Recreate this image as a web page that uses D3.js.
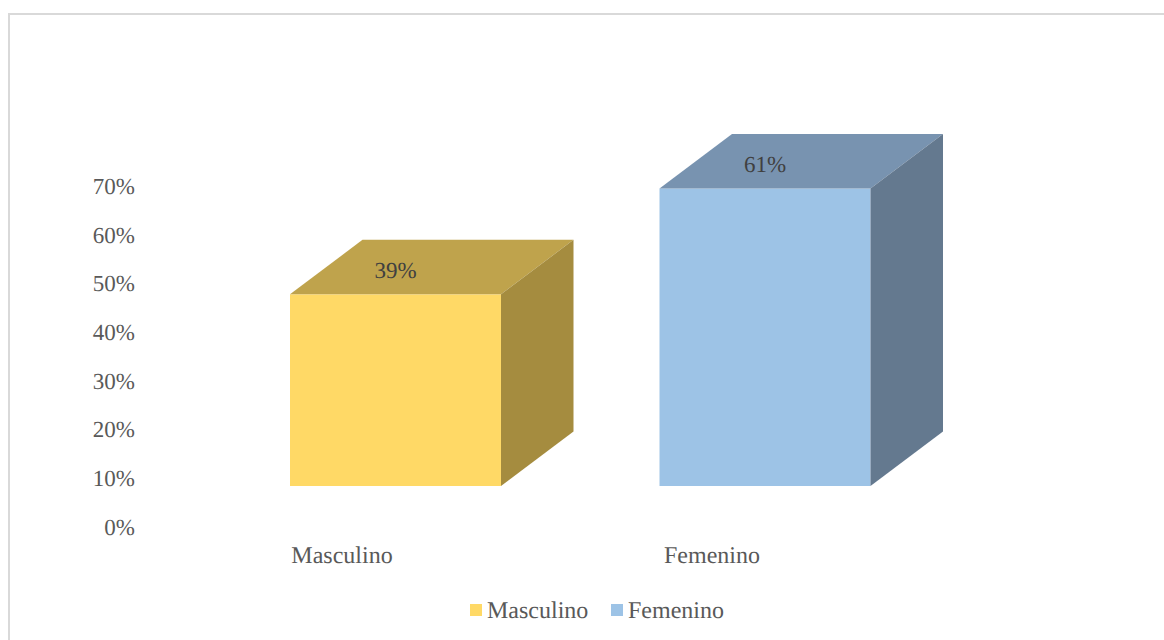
<!DOCTYPE html>
<html>
<head>
<meta charset="utf-8">
<script src="https://cdn.jsdelivr.net/npm/d3@7"></script>
<style>
  html, body { margin: 0; padding: 0; background: #fff; }
  text { font-family: "Liberation Serif", serif; text-rendering: geometricPrecision; }
</style>
</head>
<body>
<div id="chart"></div>
<script>
var categories = ["Masculino", "Femenino"];
var values = [0.393, 0.61];
var valueLabels = ["39%", "61%"];
var ticks = [0, 0.1, 0.2, 0.3, 0.4, 0.5, 0.6, 0.7];
var frontColors = ["#ffd966", "#9dc3e6"];
var topColors = ["#bfa34c", "#7893b0"];
var sideColors = ["#a58c3f", "#64798f"];

var width = 1164, height = 640;

var svg = d3.select("#chart").append("svg")
  .attr("width", width)
  .attr("height", height)
  .style("display", "block");

// chart frame
svg.append("rect")
  .attr("x", 9).attr("y", 14)
  .attr("width", 1160).attr("height", 640)
  .attr("fill", "#fff")
  .attr("stroke", "#d9d9d9")
  .attr("stroke-width", 2);

// value scale: the tick labels sit on the back wall, the bars are on the front plane
var yScale = d3.scaleLinear().domain([0, 0.7]).range([527, 186]);
var frontScale = d3.scaleLinear().domain([0, 0.61]).range([486, 188.5]);
var barX = d3.scalePoint().domain(categories).range([290, 659.5]);
var barWidth = 211;
var depthX = 72.5, depthY = 54.5;

// y axis labels
var yAxis = d3.axisLeft(yScale).tickValues(ticks).tickFormat(d3.format(".0%")).tickSize(0).tickPadding(0);
var yG = svg.append("g").attr("transform", "translate(135,0)").call(yAxis);
yG.select(".domain").remove();
yG.selectAll("text").attr("fill", "#595959").attr("dy", "0.32em")
  .style("font-family", '"Liberation Serif", serif').style("font-size", "23px");

var bars = svg.append("g").selectAll("g").data(categories).join("g");

// front face
bars.append("rect")
  .attr("x", function (d) { return barX(d); })
  .attr("y", function (d, i) { return frontScale(values[i]); })
  .attr("width", barWidth)
  .attr("height", function (d, i) { return frontScale(0) - frontScale(values[i]); })
  .attr("fill", function (d, i) { return frontColors[i]; });

// top face
bars.append("path")
  .attr("d", function (d, i) {
    var x = barX(d), y = frontScale(values[i]);
    return "M" + x + "," + y + "L" + (x + depthX) + "," + (y - depthY) +
      "L" + (x + barWidth + depthX) + "," + (y - depthY) + "L" + (x + barWidth) + "," + y + "Z";
  })
  .attr("fill", function (d, i) { return topColors[i]; });

// side face
bars.append("path")
  .attr("d", function (d, i) {
    var x = barX(d) + barWidth, y = frontScale(values[i]), y0 = frontScale(0);
    return "M" + x + "," + y + "L" + (x + depthX) + "," + (y - depthY) +
      "L" + (x + depthX) + "," + (y0 - depthY) + "L" + x + "," + y0 + "Z";
  })
  .attr("fill", function (d, i) { return sideColors[i]; });

// value labels
bars.append("text")
  .attr("x", function (d) { return barX(d) + 105.5; })
  .attr("y", function (d, i) { return frontScale(values[i]) - 23.5; })
  .attr("dy", "0.32em")
  .attr("text-anchor", "middle")
  .attr("font-size", 23)
  .attr("fill", "#404040")
  .text(function (d, i) { return valueLabels[i]; });

// category labels
var catX = d3.scalePoint().domain(categories).range([342, 712]);
svg.append("g").selectAll("text").data(categories).join("text")
  .attr("x", function (d) { return catX(d); })
  .attr("y", 555)
  .attr("dy", "0.32em")
  .attr("text-anchor", "middle")
  .attr("font-size", 24)
  .attr("fill", "#595959")
  .text(function (d) { return d; });

// legend
var legendX = d3.scalePoint().domain(categories).range([470, 611]);
var legend = svg.append("g").selectAll("g").data(categories).join("g")
  .attr("transform", function (d) { return "translate(" + legendX(d) + ",604)"; });
legend.append("rect")
  .attr("width", 12).attr("height", 12)
  .attr("fill", function (d, i) { return frontColors[i]; });
legend.append("text")
  .attr("x", 17).attr("y", 6)
  .attr("dy", "0.32em")
  .attr("font-size", 24)
  .attr("fill", "#595959")
  .text(function (d) { return d; });
</script>
</body>
</html>
